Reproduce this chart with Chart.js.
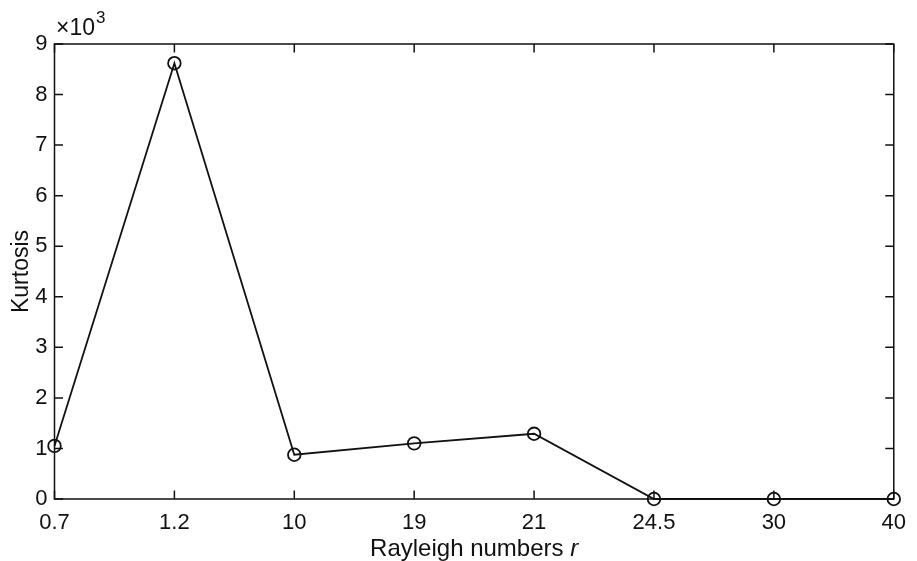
<!DOCTYPE html>
<html>
<head>
<meta charset="utf-8">
<script src="https://cdn.jsdelivr.net/npm/chart.js@4"></script>
<style>
  html, body { margin: 0; padding: 0; background: #fff; }
  #wrap { width: 917px; height: 561px; }
</style>
</head>
<body>
<div id="wrap"><canvas id="kurtChart" width="917" height="561"></canvas></div>
<script>
// Rayleigh numbers on the x axis (evenly spaced categories)
const rayleigh = ['0.7', '1.2', '10', '19', '21', '24.5', '30', '40'];
// kurtosis per Rayleigh number
const kurtosis = [1050, 8620, 875, 1100, 1290, 0, 0, 0];
// y axis ticks, shown in units of 10^3
const yTicks = [0, 1000, 2000, 3000, 4000, 5000, 6000, 7000, 8000, 9000];

const FONT = '"Liberation Sans", Arial, Helvetica, sans-serif';
const INK = '#111';

// box around the plot, inward ticks on all four sides, exponent label, x title
const frameBox = {
    id: 'frameBox',
    afterDraw(chart) {
        const ctx = chart.ctx;
        const a = chart.chartArea;
        const xs = chart.scales.x;
        const ys = chart.scales.y;
        const tl = 8.5;
        ctx.save();
        ctx.strokeStyle = INK;
        ctx.lineWidth = 1.5;
        ctx.strokeRect(a.left, a.top, a.right - a.left, a.bottom - a.top);
        ctx.beginPath();
        xs.ticks.forEach((t, i) => {
            const px = xs.getPixelForTick(i);
            ctx.moveTo(px, a.bottom); ctx.lineTo(px, a.bottom - tl);
            ctx.moveTo(px, a.top); ctx.lineTo(px, a.top + tl);
        });
        ys.ticks.forEach((t, i) => {
            const py = ys.getPixelForTick(i);
            ctx.moveTo(a.left, py); ctx.lineTo(a.left + tl, py);
            ctx.moveTo(a.right, py); ctx.lineTo(a.right - tl, py);
        });
        ctx.stroke();

        // ×10^3 above the y axis
        ctx.fillStyle = INK;
        ctx.textBaseline = 'alphabetic';
        ctx.textAlign = 'left';
        ctx.font = '23px ' + FONT;
        ctx.fillText('\u00d710', 56, 35);
        const w = ctx.measureText('\u00d710').width;
        ctx.font = '17px ' + FONT;
        ctx.fillText('3', 56 + w + 1, 23);

        // x axis title with italic r
        const main = 'Rayleigh numbers ';
        ctx.font = '24px ' + FONT;
        const w1 = ctx.measureText(main).width;
        ctx.font = 'italic 24px ' + FONT;
        const w2 = ctx.measureText('r').width;
        const x0 = (a.left + a.right) / 2 - (w1 + w2) / 2;
        ctx.font = '24px ' + FONT;
        ctx.fillText(main, x0, 556);
        ctx.font = 'italic 24px ' + FONT;
        ctx.fillText('r', x0 + w1, 556);
        ctx.restore();
    }
};

new Chart(document.getElementById('kurtChart').getContext('2d'), {
    type: 'line',
    data: {
        labels: rayleigh,
        datasets: [{
            data: kurtosis,
            borderColor: INK,
            borderWidth: 1.8,
            backgroundColor: 'rgba(0,0,0,0)',
            pointRadius: 6.3,
            pointHoverRadius: 6.3,
            pointBorderWidth: 1.8,
            pointBorderColor: INK,
            pointBackgroundColor: 'rgba(0,0,0,0)',
            tension: 0,
            clip: false
        }]
    },
    options: {
        responsive: false,
        animation: false,
        layout: { padding: { top: 44, right: 22, left: 0, bottom: 0 } },
        plugins: {
            legend: { display: false },
            tooltip: { enabled: false }
        },
        scales: {
            x: {
                type: 'category',
                offset: false,
                grid: { display: false, drawTicks: false },
                border: { display: false },
                ticks: {
                    color: INK,
                    font: { family: FONT, size: 22 },
                    padding: 11,
                    maxRotation: 0,
                    autoSkip: false
                },
                afterFit: s => { s.height = 62; }
            },
            y: {
                min: 0,
                max: 9000,
                grid: { display: false, drawTicks: false },
                border: { display: false },
                afterBuildTicks: s => { s.ticks = yTicks.map(v => ({ value: v })); },
                ticks: {
                    color: INK,
                    font: { family: FONT, size: 22 },
                    padding: 7,
                    callback: v => String(v / 1000)
                },
                title: {
                    display: true,
                    text: 'Kurtosis',
                    color: INK,
                    font: { family: FONT, size: 23 },
                    padding: { top: 8, bottom: 0 }
                },
                afterFit: s => { s.width = 54.5; }
            }
        }
    },
    plugins: [frameBox]
});
</script>
</body>
</html>
